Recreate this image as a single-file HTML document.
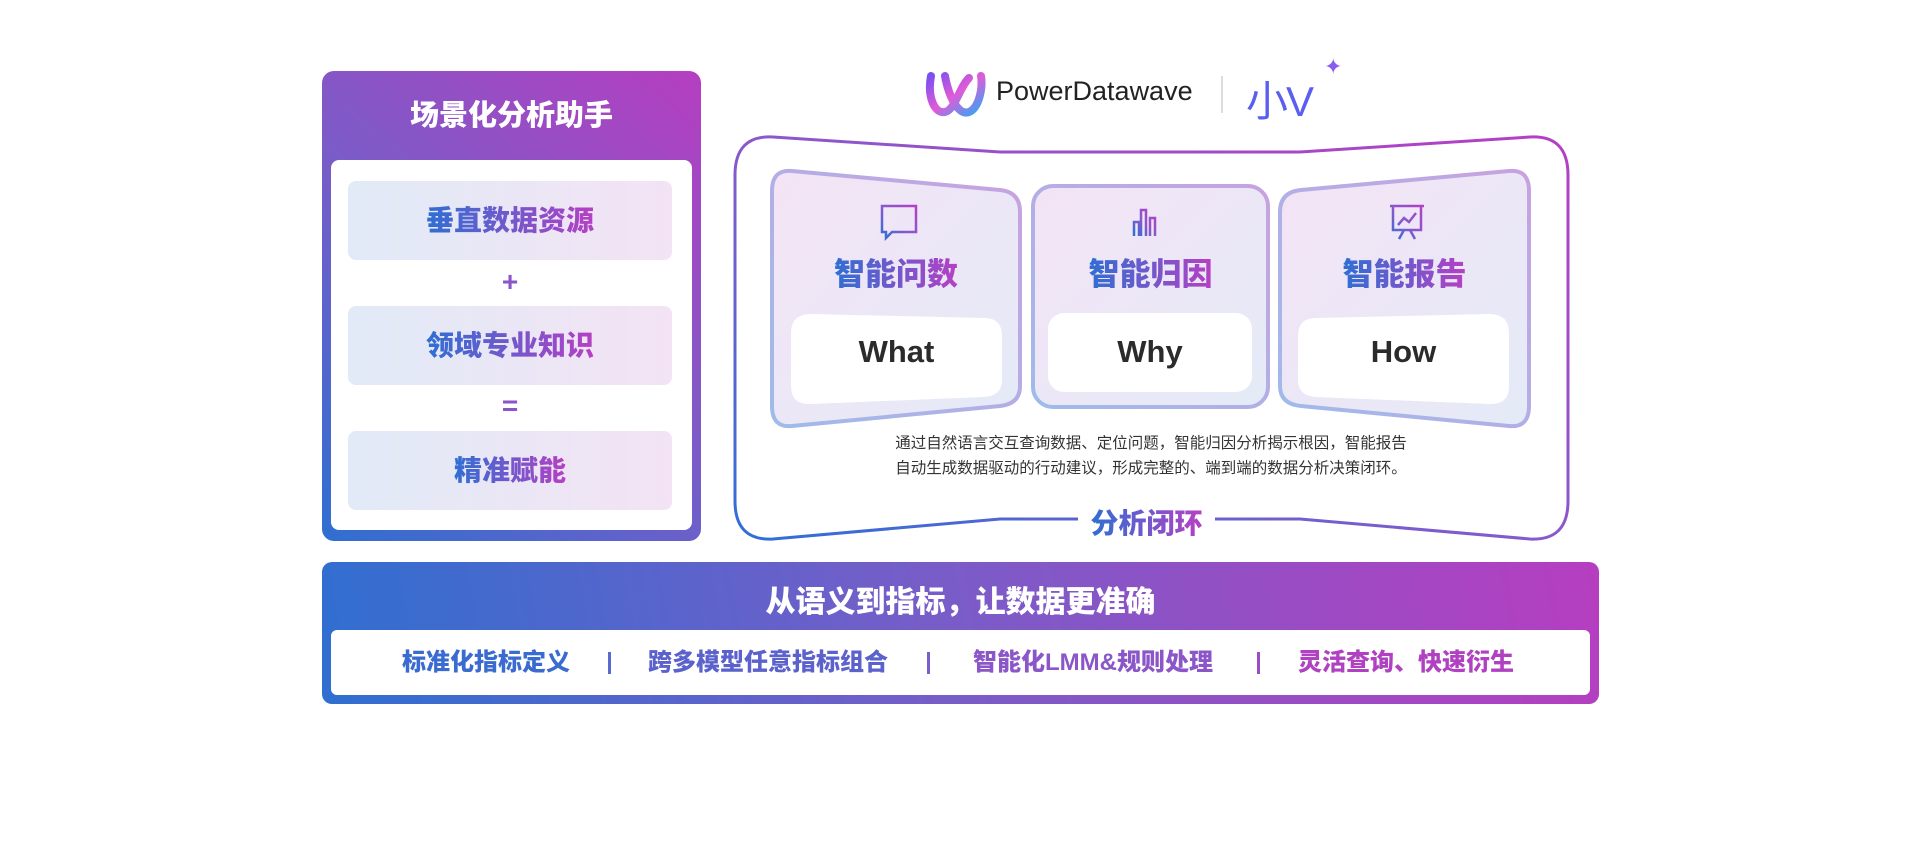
<!DOCTYPE html>
<html><head><meta charset="utf-8"><style>
body{margin:0;width:1921px;height:843px;background:#fff;position:relative;overflow:hidden;font-family:"Liberation Sans","Noto Sans CJK SC",sans-serif}
.a{position:absolute}
.gt{background:linear-gradient(90deg,#2f6fd3,#b640c4);-webkit-background-clip:text;background-clip:text;color:transparent;font-weight:900}
.c{text-align:center}
.item{position:absolute;left:348px;width:324px;height:79px;border-radius:8px;background:linear-gradient(90deg,#e1eaf7,#f3e3f4);line-height:79px;font-size:28px;text-align:center}
</style></head><body>
<div class="a" style="left:322px;top:71px;width:379px;height:470px;border-radius:12px;background:linear-gradient(40deg,#2f6fd0 0%,#7a5cc8 50%,#b63ec0 100%)"></div>
<div class="a c" style="left:322px;top:92px;width:379px;font-size:29px;font-weight:900;color:#fff">场景化分析助手</div>
<div class="a" style="left:331px;top:160px;width:361px;height:370px;border-radius:8px;background:#fff"></div>
<div class="item" style="top:181px"><span class="gt">垂直数据资源</span></div>
<div class="a c" style="left:348px;width:324px;top:266px;font-size:28px;font-weight:900;color:#8a55c8">+</div>
<div class="item" style="top:306px"><span class="gt">领域专业知识</span></div>
<div class="a c" style="left:348px;width:324px;top:390px;font-size:28px;font-weight:900;color:#8a55c8">=</div>
<div class="item" style="top:431px"><span class="gt">精准赋能</span></div>

<svg class="a" style="left:925px;top:68px" width="64" height="52" viewBox="0 0 64 52">
<defs><linearGradient id="lg" x1="0" y1="0" x2="1" y2="1"><stop offset="0" stop-color="#7b4ff0"/><stop offset=".5" stop-color="#e05bd8"/><stop offset="1" stop-color="#2fa8f5"/></linearGradient></defs>
<path d="M6 8 C2 30 10 46 20 44 C30 42 34 20 44 10 M20 8 C24 30 34 48 44 44 C54 40 58 20 56 8" fill="none" stroke="url(#lg)" stroke-width="8" stroke-linecap="round"/>
</svg>
<div class="a" style="left:996px;top:76px;font-size:27px;color:#222">PowerDatawave</div>
<div class="a" style="left:1221px;top:76px;width:2px;height:37px;background:#ddd"></div>
<div class="a" style="left:1246px;top:68px;font-size:42px;color:#5b5ff0;letter-spacing:-2px">小V</div>
<div class="a" style="left:1324px;top:54px;font-size:22px;color:#8b5cf0">✦</div>

<svg class="a" style="left:0;top:0" width="1921" height="843">
<defs>
<linearGradient id="fg" x1="0" y1="1" x2="1" y2="0"><stop offset="0" stop-color="#2f6fd6"/><stop offset=".5" stop-color="#8a58cc"/><stop offset="1" stop-color="#b63ec4"/></linearGradient>
<linearGradient id="cf" x1="0" y1="0" x2="1" y2="1"><stop offset="0" stop-color="#f4e4f5"/><stop offset="1" stop-color="#e4eaf7"/></linearGradient>
<linearGradient id="cs" x1="0" y1="1" x2="1" y2="0"><stop offset="0" stop-color="#9fbbea"/><stop offset="1" stop-color="#c7a2e0"/></linearGradient>
</defs>
<path d="M1215 519 L1300 519 L1530 539 Q1568 541 1568 501 L1568 175 Q1568 135 1530 137 L1300 152 L1000 152 L773 137 Q735 135 735 175 L735 501 Q735 541 773 539 L1000 519 L1078 519" fill="none" stroke="url(#fg)" stroke-width="3"/>
<path d="M792 171 L1000 190 Q1020 192 1020 212 L1020 386 Q1020 404 1000 406 L792 426 Q772 428 772 406 L772 191 Q772 169 792 171Z" fill="url(#cf)" stroke="url(#cs)" stroke-width="4"/>
<rect x="1033" y="186" width="235" height="221" rx="20" fill="url(#cf)" stroke="url(#cs)" stroke-width="4"/>
<path d="M1509 171 L1301 190 Q1280 192 1280 212 L1280 386 Q1280 404 1301 406 L1509 426 Q1529 428 1529 406 L1529 191 Q1529 169 1509 171Z" fill="url(#cf)" stroke="url(#cs)" stroke-width="4"/>
<path d="M811 314 L984 318 Q1002 318 1002 336 L1002 380 Q1002 396 984 397 L811 404 Q791 405 791 386 L791 333 Q791 314 811 314Z" fill="#fff"/>
<rect x="1048" y="313" width="204" height="79" rx="16" fill="#fff"/>
<path d="M1489 314 L1316 318 Q1298 318 1298 336 L1298 380 Q1298 396 1316 397 L1489 404 Q1509 405 1509 386 L1509 333 Q1509 314 1489 314Z" fill="#fff"/>
<g fill="none" stroke="url(#fg)" stroke-width="2.5">
<path d="M882 206 h34 v26 h-24 l-6 6 v-6 h-4z"/>
<path d="M893 219 h1 M899 219 h1 M905 219 h1"/>
<path d="M1134 236 v-14 h5 v14 M1141 236 v-26 h5 v26 M1150 236 v-18 h5 v18"/>
<path d="M1390 206 h34 M1393 206 v24 h28 v-24 M1398 225 l6 -7 l5 4 l7 -9 M1404 230 l-5 9 M1410 230 l5 9"/>
</g>
</svg>
<div class="a c" style="left:772px;width:248px;top:249px;font-size:31px"><span class="gt">智能问数</span></div>
<div class="a c" style="left:1033px;width:235px;top:249px;font-size:31px"><span class="gt">智能归因</span></div>
<div class="a c" style="left:1280px;width:249px;top:249px;font-size:31px"><span class="gt">智能报告</span></div>
<div class="a c" style="left:791px;width:211px;top:334px;font-size:31px;font-weight:700;color:#2b2b2b">What</div>
<div class="a c" style="left:1048px;width:204px;top:334px;font-size:31px;font-weight:700;color:#2b2b2b">Why</div>
<div class="a c" style="left:1298px;width:211px;top:334px;font-size:31px;font-weight:700;color:#2b2b2b">How</div>
<div class="a c" style="left:790px;width:722px;top:431px;font-size:15.5px;line-height:25px;color:#333">通过自然语言交互查询数据、定位问题，智能归因分析揭示根因，智能报告<br>自动生成数据驱动的行动建议，形成完整的、端到端的数据分析决策闭环。</div>
<div class="a c" style="left:1078px;width:137px;top:502px;font-size:28px"><span class="gt">分析闭环</span></div>

<div class="a" style="left:322px;top:562px;width:1277px;height:142px;border-radius:10px;background:linear-gradient(80deg,#2f6fd0 0%,#7a5cc8 50%,#b63ec0 100%)"></div>
<div class="a c" style="left:322px;top:577px;width:1277px;font-size:30px;font-weight:900;color:#fff">从语义到指标，让数据更准确</div>
<div class="a" style="left:331px;top:630px;width:1259px;height:65px;border-radius:6px;background:#fff"></div>
<div class="a" style="left:331px;top:648px;width:1259px;height:30px;font-size:24px;line-height:30px;font-weight:900">
<span class="a c" style="left:50px;width:210px;color:#3a6bd0">标准化指标定义</span>
<span class="a" style="left:277px;top:4px;width:3px;height:22px;background:#5b6ad0"></span>
<span class="a c" style="left:287px;width:300px;color:#5b62cc">跨多模型任意指标组合</span>
<span class="a" style="left:596px;top:4px;width:3px;height:22px;background:#7d5ccc"></span>
<span class="a c" style="left:612px;width:300px;color:#8a56c8">智能化LMM&amp;规则处理</span>
<span class="a" style="left:926px;top:4px;width:3px;height:22px;background:#9a4ec6"></span>
<span class="a c" style="left:945px;width:260px;color:#b042c2">灵活查询、快速衍生</span>
</div>
</body></html>
